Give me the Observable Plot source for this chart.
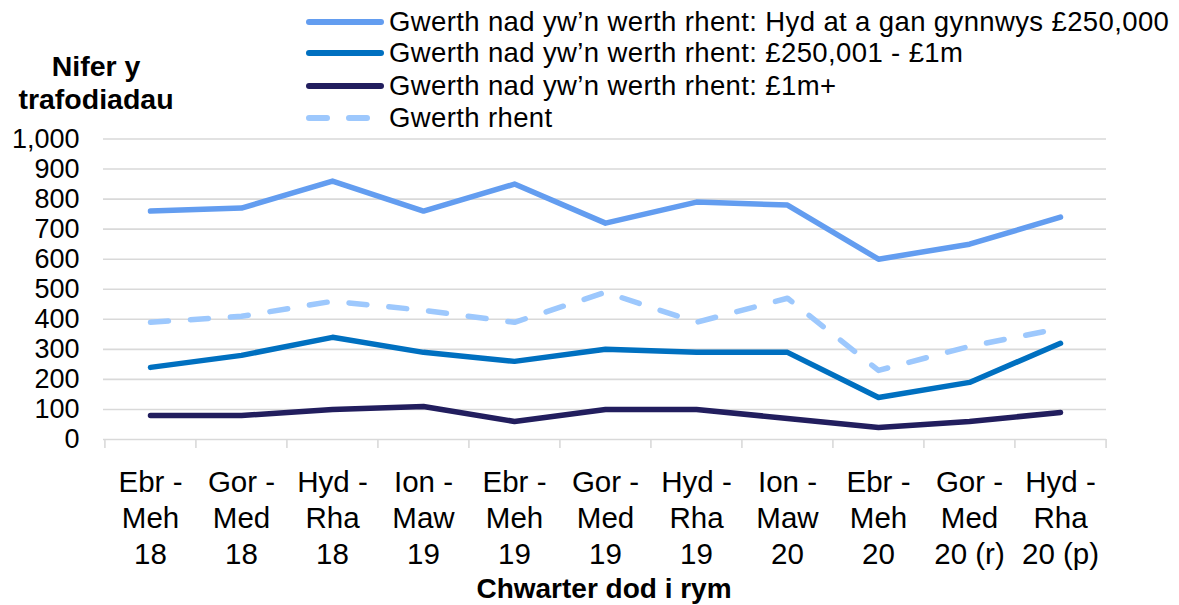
<!DOCTYPE html>
<html>
<head>
<meta charset="utf-8">
<script src="https://cdn.jsdelivr.net/npm/d3@7"></script>
<script src="https://cdn.jsdelivr.net/npm/@observablehq/plot@0.6"></script>
<style>
  html, body { margin: 0; padding: 0; background: #fff; }
  #wrap { position: relative; width: 1179px; height: 605px; font-family: "Liberation Sans", Arial, sans-serif; color: #000; }
  #wrap svg.plot { position: absolute; left: 0; top: 0; }
  .legend-row { position: absolute; left: 304px; height: 32px; line-height: 32px; font-size: 27.5px; letter-spacing: 0.38px; white-space: nowrap; display: flex; align-items: center; }
  .legend-row svg { display: block; margin-right: 5px; }
  #ytitle { position: absolute; left: -4px; top: 50px; width: 200px; text-align: center; font-weight: bold; font-size: 28.5px; line-height: 33px; }
  #xtitle { position: absolute; left: 404px; top: 573px; width: 400px; text-align: center; font-weight: bold; font-size: 28px; line-height: 32px; }
</style>
</head>
<body>
<div id="wrap"></div>
<script>
const categories = ["Ebr -\nMeh\n18", "Gor -\nMed\n18", "Hyd -\nRha\n18", "Ion -\nMaw\n19", "Ebr -\nMeh\n19", "Gor -\nMed\n19", "Hyd -\nRha\n19", "Ion -\nMaw\n20", "Ebr -\nMeh\n20", "Gor -\nMed\n20 (r)", "Hyd -\nRha\n20 (p)"];
const seriesNames = [
  "Gwerth nad yw’n werth rhent: Hyd at a gan gynnwys £250,000",
  "Gwerth nad yw’n werth rhent: £250,001 - £1m",
  "Gwerth nad yw’n werth rhent: £1m+",
  "Gwerth rhent"
];
const upTo250k = [760, 770, 860, 760, 850, 720, 790, 780, 600, 650, 740];
const from250kTo1m = [240, 280, 340, 290, 260, 300, 290, 290, 140, 190, 320];
const over1m = [80, 80, 100, 110, 60, 100, 100, 70, 40, 60, 90];
const rent = [390, 410, 460, 430, 390, 490, 390, 470, 230, 310, 370];
const yTicks = [0, 100, 200, 300, 400, 500, 600, 700, 800, 900, 1000];
const yTitle = "Nifer y\ntrafodiadau";
const xTitle = "Chwarter dod i rym";

const colors = ["#639df0", "#0070c0", "#221e5e", "#9dc8fd"];
const dashes = [null, null, null, "18,22"];
const allSeries = [upTo250k, from250kTo1m, over1m, rent];

const W = 1179, H = 605, ML = 103, MR = 73, MT = 138.5, MB = 166;
const half = (W - ML - MR) / categories.length / 2;

const marks = [
  Plot.gridY(yTicks, {stroke: "#d9d9d9", strokeOpacity: 1, strokeWidth: 1.6}),
  Plot.ruleX(categories, {x: d => d, dx: -half, y1: 0, y2: -30, stroke: "#d9d9d9", strokeWidth: 1.6}),
  Plot.ruleX([categories[categories.length - 1]], {x: d => d, dx: half, y1: 0, y2: -30, stroke: "#d9d9d9", strokeWidth: 1.6}),
  Plot.axisY(yTicks, {tickSize: 0, tickPadding: 24, tickFormat: d3.format(","), fontSize: 27, label: null}),
  Plot.axisX(categories, {tickSize: 0, tickPadding: 27, fontSize: 29.5, lineHeight: 1.22, label: null})
];
allSeries.forEach((vals, s) => {
  const data = categories.map((c, i) => ({c, v: vals[i]}));
  marks.push(Plot.lineY(data, {
    x: "c", y: "v", stroke: colors[s], strokeWidth: 5.5,
    strokeLinecap: "round", strokeLinejoin: "round",
    strokeDasharray: dashes[s] || undefined
  }));
});

const chart = Plot.plot({
  width: W, height: H,
  marginLeft: ML, marginRight: MR, marginTop: MT, marginBottom: MB,
  style: {fontFamily: "'Liberation Sans', Arial, sans-serif", color: "#000", background: "#fff", overflow: "visible"},
  x: {type: "point", domain: categories, padding: 0.5, label: null},
  y: {domain: [0, 1000], label: null},
  marks
});
chart.classList.add("plot");
const wrap = document.getElementById("wrap");
wrap.appendChild(chart);

// Legend
const rowCenters = [21.5, 53, 85.5, 117.5];
seriesNames.forEach((name, s) => {
  const row = document.createElement("div");
  row.className = "legend-row";
  row.style.top = (rowCenters[s] - 16) + "px";
  const dash = dashes[s] ? ` stroke-dasharray="${dashes[s]}"` : "";
  row.innerHTML = `<svg width="80" height="12"><line x1="5" y1="6" x2="77" y2="6" stroke="${colors[s]}" stroke-width="6" stroke-linecap="round"${dash}/></svg><span></span>`;
  row.querySelector("span").textContent = name;
  wrap.appendChild(row);
});

const yt = document.createElement("div");
yt.id = "ytitle";
yt.innerHTML = yTitle.split("\n").map(t => `<div>${t}</div>`).join("");
wrap.appendChild(yt);
const xt = document.createElement("div");
xt.id = "xtitle";
xt.textContent = xTitle;
wrap.appendChild(xt);
</script>
</body>
</html>
